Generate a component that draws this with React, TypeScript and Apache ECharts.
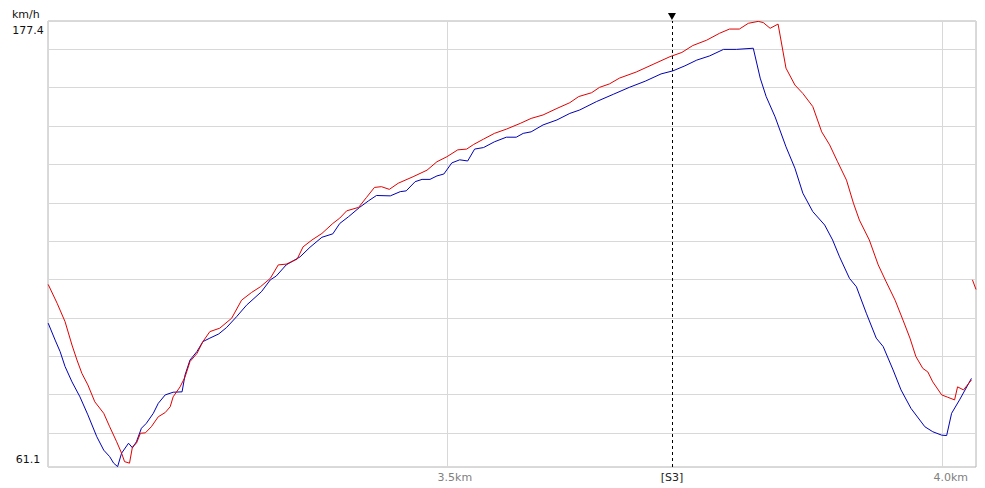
import React, { useEffect, useRef } from "react";
import * as echarts from "echarts";

// axis extents (distance in metres, speed in km/h)
const X_MIN = 3097.8;
const X_MAX = 4033.6;
const Y_MIN = 61.1;
const Y_MAX = 177.4;
const S3_DIST = 3727;
const S3_LABEL = "[S3]";
const Y_UNIT = "km/h";
const X_TICKS = [3500, 4000];

const blueDist = [3098, 3105, 3110, 3115, 3122, 3130, 3138, 3147, 3154, 3160, 3164, 3168, 3172, 3179, 3183, 3187, 3192, 3197, 3204, 3209, 3216, 3224, 3233, 3236, 3241, 3248, 3254, 3261, 3270, 3278, 3288, 3298, 3313, 3322, 3328, 3338, 3352, 3362, 3374, 3385, 3392, 3401, 3412, 3421, 3429, 3443, 3453, 3459, 3468, 3475, 3483, 3490, 3497, 3505, 3513, 3521, 3528, 3537, 3548, 3560, 3570, 3577, 3585, 3597, 3611, 3624, 3634, 3651, 3668, 3684, 3700, 3716, 3728, 3740, 3752, 3765, 3779, 3792, 3809, 3816, 3822, 3831, 3842, 3851, 3859, 3869, 3881, 3889, 3896, 3906, 3913, 3923, 3933, 3940, 3950, 3958, 3968, 3982, 3990, 3999, 4004, 4009, 4017, 4029];
const blueSpeed = [98.6, 94.2, 91.2, 87.3, 83.3, 79.4, 74.7, 69.0, 65.5, 63.8, 62.1, 61.2, 64.7, 67.3, 66.1, 67.7, 71.2, 72.5, 75.1, 77.7, 79.9, 80.6, 80.7, 85.1, 89.0, 91.2, 93.8, 94.7, 95.8, 97.5, 100.3, 103.3, 106.8, 109.9, 110.9, 113.8, 115.9, 118.4, 121.0, 121.9, 124.6, 126.4, 128.8, 130.5, 131.9, 131.8, 132.9, 133.1, 135.5, 136.1, 136.1, 137.0, 137.5, 140.4, 141.2, 140.9, 144.0, 144.4, 145.9, 147.1, 147.1, 148.1, 148.5, 150.3, 151.6, 153.3, 154.2, 156.4, 158.3, 160.1, 161.7, 163.6, 164.4, 165.7, 167.2, 168.3, 170.0, 170.0, 170.3, 162.5, 157.7, 152.4, 144.6, 139.0, 132.5, 127.7, 124.2, 120.3, 115.9, 110.3, 108.1, 101.2, 94.7, 92.5, 86.4, 81.2, 76.4, 71.6, 70.3, 69.4, 69.3, 75.1, 78.6, 84.2];

const redDist = [3098, 3107, 3115, 3122, 3127, 3132, 3138, 3145, 3154, 3160, 3167, 3172, 3175, 3180, 3183, 3187, 3191, 3196, 3202, 3209, 3216, 3221, 3224, 3231, 3236, 3241, 3248, 3254, 3261, 3271, 3283, 3293, 3303, 3312, 3322, 3330, 3338, 3349, 3355, 3364, 3374, 3385, 3392, 3399, 3411, 3419, 3427, 3434, 3442, 3451, 3466, 3480, 3490, 3500, 3511, 3520, 3527, 3537, 3548, 3560, 3574, 3585, 3597, 3611, 3624, 3633, 3646, 3654, 3664, 3674, 3691, 3708, 3725, 3737, 3748, 3762, 3775, 3785, 3795, 3804, 3814, 3819, 3826, 3834, 3842, 3851, 3859, 3869, 3878, 3886, 3894, 3903, 3910, 3916, 3926, 3935, 3943, 3952, 3960, 3967, 3973, 3980, 3985, 3990, 3999, 4005, 4012, 4015, 4021, 4029, 4029.5, 4030, 4033.6];
const redSpeed = [108.7, 103.8, 99.0, 92.9, 89.0, 85.5, 82.5, 78.1, 75.1, 71.6, 67.7, 64.7, 62.5, 62.1, 66.4, 67.3, 69.9, 70.0, 71.6, 74.2, 75.3, 76.8, 79.4, 82.0, 84.6, 88.6, 90.7, 93.8, 96.4, 97.3, 99.9, 104.6, 106.6, 108.1, 110.3, 113.8, 114.0, 115.3, 118.5, 120.3, 122.0, 124.6, 126.0, 127.9, 128.8, 131.4, 134.0, 134.2, 133.5, 135.1, 136.8, 138.5, 140.7, 142.0, 143.8, 144.0, 145.2, 146.6, 148.1, 149.2, 150.7, 152.0, 152.9, 154.6, 156.1, 157.7, 158.7, 160.1, 161.0, 162.5, 164.1, 166.1, 168.1, 169.2, 171.0, 172.4, 174.2, 175.3, 175.3, 176.8, 177.3, 177.0, 175.5, 176.6, 165.1, 160.7, 158.5, 155.1, 148.5, 145.1, 140.7, 135.9, 129.9, 125.5, 120.3, 113.8, 109.4, 104.6, 99.4, 94.7, 89.9, 86.8, 85.9, 83.3, 79.9, 79.3, 78.6, 82.0, 81.2, 83.8, null, 109.9, 107.4];

const FONT = "DejaVu Sans";

export default function App() {
  const ref = useRef<HTMLDivElement>(null);

  useEffect(() => {
    document.body.style.margin = "0";
    const chart = echarts.init(ref.current!, undefined, { renderer: "svg" });
    const pairs = (xs: number[], ys: (number | null)[]) =>
      xs.map((x, i) => [x, ys[i] === null ? "-" : ys[i]]);
    const near = (a: number, b: number) => Math.abs(a - b) < 0.01;

    chart.setOption({
      animation: false,
      backgroundColor: "#ffffff",
      textStyle: { fontFamily: FONT },
      grid: {
        left: 48,
        top: 21,
        width: 928,
        height: 446,
        show: true,
        borderColor: "#b4b4b4",
        borderWidth: 1,
        backgroundColor: "#ffffff",
      },
      graphic: [
        {
          type: "text",
          left: 12,
          top: 9,
          style: { text: Y_UNIT, fill: "#111", font: `11px '${FONT}'` },
        },
      ],
      xAxis: {
        type: "value",
        min: X_MIN,
        max: X_MAX,
        splitNumber: 2,
        axisLine: { show: false },
        axisTick: { show: false },
        splitLine: { show: true, lineStyle: { color: "#d8d8d8", width: 1 } },
        axisLabel: {
          showMinLabel: true,
          showMaxLabel: true,
          margin: 5,
          color: "#808080",
          fontSize: 11,
          fontFamily: FONT,
          padding: [0, 0, 0, 16],
          formatter: (v: number) =>
            X_TICKS.some((t) => near(t, v)) ? (v / 1000).toFixed(1) + "km" : "",
        },
      },
      yAxis: [
        {
          type: "value",
          min: Y_MIN,
          max: Y_MAX,
          splitNumber: 12,
          axisLine: { show: false },
          axisTick: { show: false },
          splitLine: { show: true, lineStyle: { color: "#d8d8d8", width: 1 } },
          axisLabel: {
            showMinLabel: true,
            showMaxLabel: true,
            align: "center",
            verticalAlign: "top",
            margin: 20,
            padding: [4, 0, 0, 0],
            color: "#111",
            fontSize: 11,
            fontFamily: FONT,
            formatter: (v: number) => (near(v, Y_MAX) ? Y_MAX.toFixed(1) : ""),
          },
        },
        {
          type: "value",
          position: "left",
          min: Y_MIN,
          max: Y_MAX,
          splitNumber: 12,
          axisLine: { show: false },
          axisTick: { show: false },
          splitLine: { show: false },
          axisLabel: {
            showMinLabel: true,
            showMaxLabel: true,
            align: "center",
            verticalAlign: "bottom",
            margin: 20,
            padding: [0, 0, 2, 0],
            color: "#111",
            fontSize: 11,
            fontFamily: FONT,
            formatter: (v: number) => (near(v, Y_MIN) ? Y_MIN.toFixed(1) : ""),
          },
        },
      ],
      series: [
        {
          type: "line",
          name: "blue",
          data: pairs(blueDist, blueSpeed),
          showSymbol: false,
          symbol: "none",
          lineStyle: { color: "#0000b4", width: 1 },
          itemStyle: { color: "#0000b4" },
          silent: true,
          markLine: {
            silent: true,
            symbol: ["none", "none"],
            lineStyle: { color: "#000", width: 1, type: [3, 3] },
            label: {
              show: true,
              position: "start",
              distance: 5,
              formatter: S3_LABEL,
              color: "#222",
              fontSize: 11,
              fontFamily: FONT,
            },
            data: [[{ coord: [S3_DIST, Y_MIN] }, { coord: [S3_DIST, Y_MAX] }]],
          },
          markPoint: {
            silent: true,
            symbol: "path://M0,0L10,0L5,9Z",
            symbolSize: [8, 7],
            symbolOffset: [0, -4.5],
            itemStyle: { color: "#000" },
            label: { show: false },
            data: [{ coord: [S3_DIST, Y_MAX] }],
          },
        },
        {
          type: "line",
          name: "red",
          data: pairs(redDist, redSpeed),
          showSymbol: false,
          symbol: "none",
          connectNulls: false,
          lineStyle: { color: "#e00000", width: 1 },
          itemStyle: { color: "#e00000" },
          silent: true,
        },
      ],
    });
    return () => chart.dispose();
  }, []);

  return <div ref={ref} style={{ width: 985, height: 488 }} />;
}
